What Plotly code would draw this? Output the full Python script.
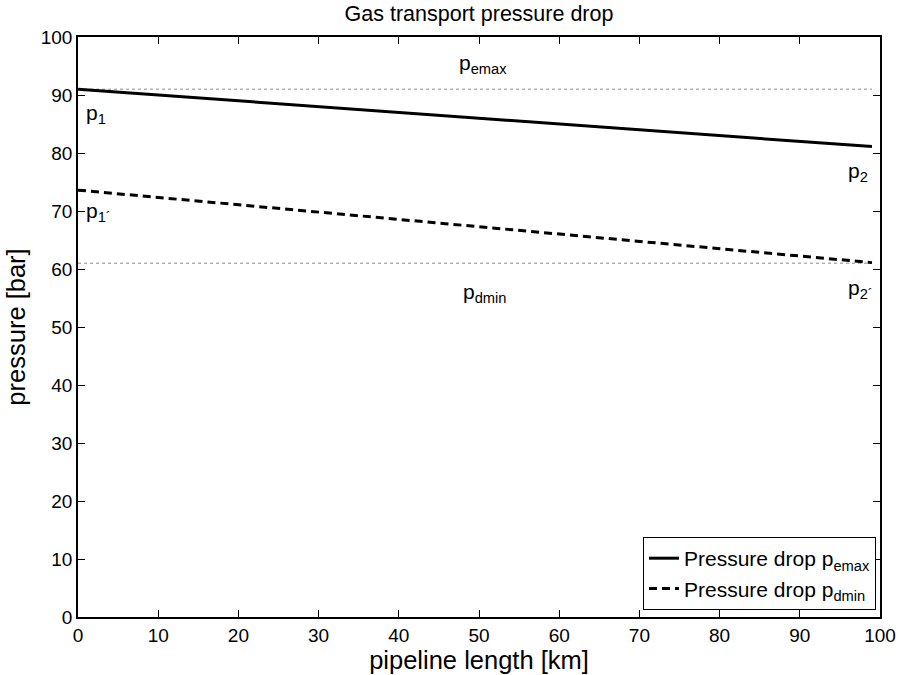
import plotly.graph_objects as go

# Data
length_km = [0, 99]
p_emax_line = [91.0, 81.1]
p_dmin_line = [73.6, 61.1]
p_emax_level = [91.0, 91.0]
p_dmin_level = [61.0, 61.0]

series_names = ["Pressure drop p<sub>emax</sub>", "Pressure drop p<sub>dmin</sub>"]

label_texts = ["p<sub>emax</sub>", "p<sub>dmin</sub>", "p<sub>1</sub>", "p<sub>2</sub>",
               "p<sub>1´</sub>", "p<sub>2´</sub>"]
label_x = [50.5, 50.7, 0.8, 95.8, 0.8, 95.8]
label_y = [95.4, 55.8, 86.8, 76.8, 69.8, 56.6]
label_anchor = ["center", "center", "left", "left", "left", "left"]

x_ticks = list(range(0, 101, 10))
y_ticks = list(range(0, 101, 10))

FONT = "Arial, Liberation Sans, Helvetica, sans-serif"

fig = go.Figure()

fig.add_trace(go.Scatter(x=length_km, y=p_emax_level, mode="lines",
                         line=dict(color="#8c8c8c", width=1, dash="dot"),
                         showlegend=False, hoverinfo="skip"))
fig.add_trace(go.Scatter(x=length_km, y=p_dmin_level, mode="lines",
                         line=dict(color="#8c8c8c", width=1, dash="dot"),
                         showlegend=False, hoverinfo="skip"))
fig.add_trace(go.Scatter(x=length_km, y=p_emax_line, mode="lines",
                         name=series_names[0],
                         line=dict(color="black", width=3)))
fig.add_trace(go.Scatter(x=length_km, y=p_dmin_line, mode="lines",
                         name=series_names[1],
                         line=dict(color="black", width=3, dash="8px,5px")))

for t, x, y, a in zip(label_texts, label_x, label_y, label_anchor):
    fig.add_annotation(x=x, y=y, xref="x", yref="y", text=t, showarrow=False,
                       xanchor=a, yanchor="middle",
                       font=dict(family=FONT, size=21, color="black"))

axis_common = dict(showgrid=False, zeroline=False, showline=True, linecolor="black",
                   linewidth=1.5, mirror="ticks", ticks="inside", ticklen=7,
                   tickcolor="black", tickwidth=1,
                   tickfont=dict(family=FONT, size=19, color="black"))

fig.update_xaxes(range=[0, 100], tickvals=x_ticks, ticktext=[str(v) for v in x_ticks],
                 title=dict(text="pipeline length [km]", standoff=1,
                            font=dict(family=FONT, size=25.5, color="black")),
                 **axis_common)
fig.update_yaxes(range=[0, 100], tickvals=y_ticks, ticktext=[str(v) for v in y_ticks],
                 title=dict(text="pressure [bar]", standoff=8,
                            font=dict(family=FONT, size=25.5, color="black")),
                 **axis_common)

fig.update_layout(
    width=899, height=675,
    margin=dict(l=78, r=19, t=37, b=58, autoexpand=False),
    paper_bgcolor="white", plot_bgcolor="white",
    title=dict(text="Gas transport pressure drop", x=0.5, xref="paper",
               y=1 - 13 / 675, yref="container", yanchor="middle", xanchor="center",
               font=dict(family=FONT, size=21.5, color="black")),
    legend=dict(x=0.995, y=0.012, xanchor="right", yanchor="bottom",
                bgcolor="white", bordercolor="black", borderwidth=1,
                font=dict(family=FONT, size=21, color="black"),
                tracegroupgap=0, itemwidth=30),
    showlegend=True,
)

fig.write_html("out.html", config={"displayModeBar": False},
               post_script="document.body.style.margin='0';document.body.style.overflow='hidden';")
